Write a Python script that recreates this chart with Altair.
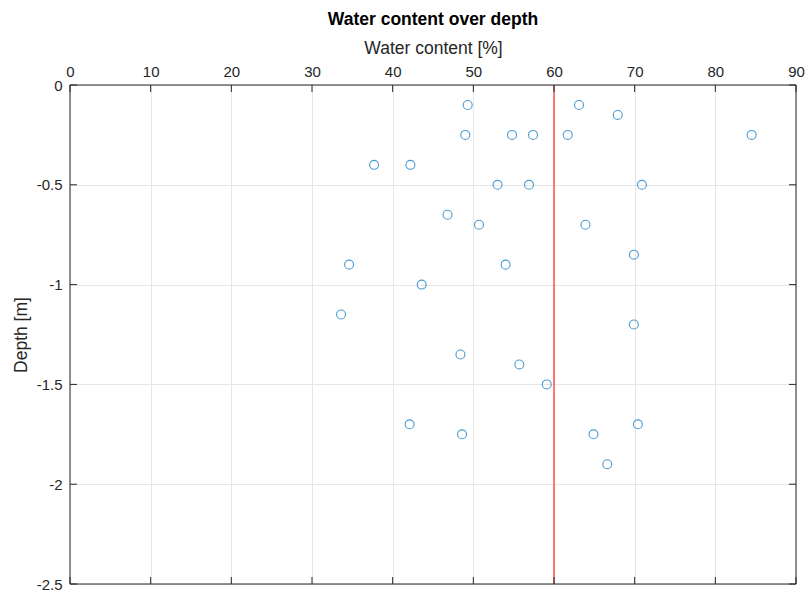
import altair as alt
import pandas as pd

# Measured water content [%] and sampling depth [m]
water_content = [49.3, 63.1, 67.9, 49.0, 54.8, 57.4, 61.7, 84.5, 37.7, 42.2,
                 53.0, 56.9, 70.9, 46.8, 50.7, 63.9, 69.9, 34.6, 54.0, 43.6,
                 33.6, 69.9, 48.4, 55.7, 59.1, 42.1, 70.4, 48.6, 64.9, 66.6]
depth = [-0.1, -0.1, -0.15, -0.25, -0.25, -0.25, -0.25, -0.25, -0.4, -0.4,
         -0.5, -0.5, -0.5, -0.65, -0.7, -0.7, -0.85, -0.9, -0.9, -1.0,
         -1.15, -1.2, -1.35, -1.4, -1.5, -1.7, -1.7, -1.75, -1.75, -1.9]
threshold = [60]
x_ticks = [0, 10, 20, 30, 40, 50, 60, 70, 80, 90]
y_ticks = [0, -0.5, -1, -1.5, -2, -2.5]

W, H = 726, 499
TICK = 7
INK = "#262626"
FONT = "Liberation Sans"

samples = pd.DataFrame({"water": water_content, "depth": depth})
limit = pd.DataFrame({"water": threshold})
xt = pd.DataFrame({"water": x_ticks})
yt = pd.DataFrame({"depth": y_ticks})
frame = pd.DataFrame({"k": [0]})

xs = alt.Scale(domain=[0, 90], nice=False, zero=False)
ys = alt.Scale(domain=[-2.5, 0], nice=False, zero=False)

axis_style = dict(
    ticks=False, domain=False, grid=True, labelFlush=False,
    labelFont=FONT, titleFont=FONT, labelFontSize=15, titleFontSize=17.5,
    labelColor=INK, titleColor=INK, titleFontWeight="normal",
    gridColor="#e6e6e6", gridWidth=1,
    labelExpr="toString(datum.value)",
)
x_axis = alt.Axis(orient="top", title="Water content [%]", values=x_ticks,
                  labelPadding=6, titlePadding=7, **axis_style)
y_axis = alt.Axis(title="Depth [m]", values=y_ticks, labelPadding=8,
                  titlePadding=6, **axis_style)

points = alt.Chart(samples).mark_point(
    shape="circle", filled=False, size=80, strokeWidth=1.1, color="#0072BD"
).encode(
    x=alt.X("water:Q", scale=xs, axis=x_axis),
    y=alt.Y("depth:Q", scale=ys, axis=y_axis),
)

red_line = alt.Chart(limit).mark_rule(color="#FF0000", strokeWidth=1).encode(
    x=alt.X("water:Q", scale=xs),
    y=alt.value(0), y2=alt.value(H),
)

# Box around the plot area
box = alt.Chart(frame).mark_rect(fill=None, stroke=INK, strokeWidth=1).encode(
    x=alt.value(0), x2=alt.value(W), y=alt.value(0), y2=alt.value(H))

# Inward-pointing ticks on all four sides of the box
tick_style = dict(color=INK, strokeWidth=1)
top_ticks = alt.Chart(xt).mark_rule(**tick_style).encode(
    x=alt.X("water:Q", scale=xs), y=alt.value(0), y2=alt.value(TICK))
bottom_ticks = alt.Chart(xt).mark_rule(**tick_style).encode(
    x=alt.X("water:Q", scale=xs), y=alt.value(H), y2=alt.value(H - TICK))
left_ticks = alt.Chart(yt).mark_rule(**tick_style).encode(
    y=alt.Y("depth:Q", scale=ys), x=alt.value(0), x2=alt.value(TICK))
right_ticks = alt.Chart(yt).mark_rule(**tick_style).encode(
    y=alt.Y("depth:Q", scale=ys), x=alt.value(W), x2=alt.value(W - TICK))

chart = alt.layer(
    red_line, box, top_ticks, bottom_ticks, left_ticks, right_ticks, points
).properties(
    width=W, height=H,
    autosize=alt.AutoSizeParams(type="none"),
    padding={"left": 70, "top": 85, "right": 9, "bottom": 10},
    title=alt.TitleParams("Water content over depth", fontSize=17.5,
                          fontWeight="bold", font=FONT, color="#000000",
                          anchor="middle", offset=11),
).configure(
    background="white"
).configure_view(
    stroke=None
)

chart.save("out.html", embed_options={"renderer": "svg", "actions": False})
